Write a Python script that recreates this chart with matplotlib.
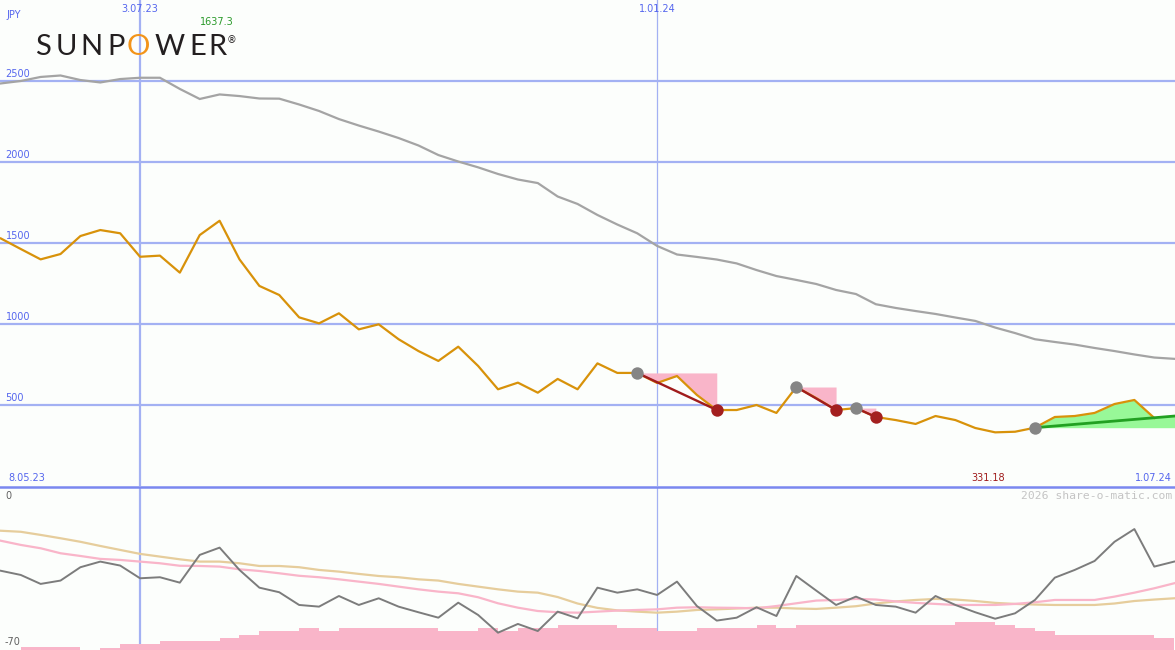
import numpy as np
import pandas as pd
import matplotlib
matplotlib.use("Agg")
import matplotlib.pyplot as plt
import matplotlib.dates as mdates
from matplotlib.lines import Line2D

# ---------------- data ----------------
weeks = pd.date_range("2023-05-15", periods=60, freq="7D")

price = [1528, 1463, 1399, 1432, 1543, 1580, 1560, 1415, 1422, 1317,
         1549, 1637.3, 1399, 1235, 1179, 1041, 1004, 1066, 967, 998,
         906, 833, 772, 860, 741, 597, 638, 576, 661, 597,
         757, 698, 698, 636, 679, 562, 469, 469, 500, 451,
         611, 543, 469, 481, 426, 407, 383, 432, 407, 358,
         331.18, 335, 360, 426, 432, 451, 506, 531, 420]

sma = [2485, 2500, 2525, 2534, 2506, 2491, 2512, 2520, 2520, 2451,
       2389, 2417, 2407, 2392, 2391, 2355, 2315, 2265, 2225, 2188,
       2148, 2102, 2043, 2003, 1967, 1926, 1892, 1870, 1787, 1741,
       1673, 1614, 1560, 1482, 1429, 1414, 1398, 1374, 1333, 1296,
       1272, 1247, 1210, 1185, 1122, 1099, 1080, 1062, 1040, 1019,
       978, 944, 906, 889, 873, 852, 833, 812, 793, 785]

osc = [-32.5, -34.5, -38.8, -37.2, -30.8, -28.1, -30.0, -36.1, -35.6, -38.2,
       -24.9, -21.4, -32.1, -40.6, -42.8, -48.9, -49.7, -44.6, -48.9, -45.7,
       -49.7, -52.4, -55.0, -47.8, -53.7, -62.2, -58.0, -61.4, -52.1, -55.3,
       -40.6, -43.0, -41.4, -44.1, -37.7, -49.4, -56.4, -55.0, -50.0, -54.2,
       -35.0, -42.0, -48.9, -44.9, -48.9, -49.7, -52.6, -44.6, -48.9, -52.4,
       -55.5, -52.9, -46.5, -35.8, -32.1, -27.8, -18.6, -12.5, -30.5, -28.1]

osc_slow = [-13.3, -13.8, -15.3, -16.9, -18.6, -20.6, -22.5, -24.4, -25.7, -27.0,
            -28.1, -28.1, -28.9, -30.2, -30.2, -30.8, -32.1, -32.9, -34.0, -35.0,
            -35.6, -36.6, -37.2, -38.8, -40.1, -41.4, -42.5, -43.0, -45.1, -48.2,
            -50.3, -51.5, -52.1, -52.6, -52.1, -51.3, -51.0, -50.6, -50.2, -50.2,
            -50.6, -50.8, -50.2, -49.5, -48.2, -47.2, -46.5, -46.0, -46.3, -47.0,
            -47.9, -48.4, -48.7, -48.9, -48.9, -48.9, -48.2, -47.0, -46.3, -45.7]

osc_mid = [-18.1, -20.1, -21.7, -24.1, -25.4, -26.8, -27.3, -28.1, -28.9, -30.1,
           -30.2, -30.5, -31.8, -32.6, -33.7, -34.9, -35.6, -36.6, -37.7, -38.8,
           -40.1, -41.4, -42.5, -43.3, -45.2, -48.1, -50.2, -51.8, -52.4, -52.6,
           -52.1, -51.6, -51.3, -51.0, -50.2, -50.0, -50.2, -50.3, -50.5, -49.4,
           -48.1, -46.8, -46.5, -46.0, -46.3, -47.2, -47.9, -48.4, -48.9, -48.9,
           -48.9, -48.4, -47.6, -46.5, -46.5, -46.5, -44.9, -43.0, -40.9, -38.5]

volume = [0, 2.7, 2.7, 2.7, 0, 2.3, 6, 6, 9, 9,
          9, 12, 15.3, 19, 19, 22.3, 19, 22.3, 22.3, 22.3,
          22.3, 22.3, 19, 19, 22.3, 19, 22.3, 22.3, 25, 25,
          25, 22.3, 22.3, 19, 19, 22.3, 22.3, 22.3, 25, 22.3,
          25, 25, 25, 25, 25, 25, 25, 25, 28.3, 28.3,
          25, 22.3, 19, 15, 15, 15, 15, 15, 11.7]

sell_entries = [32, 40, 43]
sell_exits = [36, 42, 44]
buy_entry = 52
trend_end = 432

price_grid = [500, 1000, 1500, 2000, 2500]
price_grid_labels = ["500", "1000", "1500", "2000", "2500"]
marker_dates = ["2023-07-03", "2024-01-01"]
marker_labels = ["3.07.23", "1.01.24"]

# ---------------- figure ----------------
W, H = 1175, 650
BG = "#fcfefc"
GRID = "#a3b1f3"
AXIS = "#7a88f0"
BLUE_TXT = "#5566ee"
ORANGE = "#d8920a"

fig = plt.figure(figsize=(W / 100, H / 100), dpi=100, facecolor=BG)

def fx(x):
    return x / W

def fy(y):
    return 1 - y / H

x = mdates.date2num(weeks)
d0 = mdates.date2num(pd.Timestamp("2024-01-01"))
xlim = (d0 - 231.3, d0 + 182.3)

# main panel
ax = fig.add_axes([0, 164 / H, 1, 486 / H])
ax.set_xlim(*xlim)
ax.set_ylim(0, 3000)
ax.axis("off")

for v, lab in zip(price_grid, price_grid_labels):
    ax.axhline(v, color=GRID, lw=1.6, zorder=1)
    ax.annotate(lab, xy=(0, v), xycoords=ax.get_yaxis_transform(),
                xytext=(4, 1.5), textcoords="offset points", ha="left", va="bottom",
                fontsize=7, color=BLUE_TXT, family="DejaVu Sans")

md = [mdates.date2num(pd.Timestamp(d)) for d in marker_dates]
ax.axvline(md[0], color=GRID, lw=1.6, zorder=1)
ax.axvline(md[1], color=GRID, lw=0.9, zorder=1)

ax.plot(x, sma, color="#a4a4a4", lw=1.6, zorder=3, solid_joinstyle="miter")

# sell signals: pink shading + red lines
for a, b in zip(sell_entries, sell_exits):
    ax.fill_between(x[a:b + 1], price[a], price[a:b + 1], color="#f9b5c9", lw=0, zorder=2)
    ax.plot([x[a], x[b]], [price[a], price[b]], color="#a01c1c", lw=1.7, zorder=5)

# buy signal: green shading + trend line
gx = list(x[buy_entry:len(price)]) + [xlim[1]]
gtop = list(price[buy_entry:]) + [trend_end]
ax.fill_between(gx, price[buy_entry], gtop, color="#98f898", lw=0, zorder=2)
ax.plot([x[buy_entry], xlim[1]], [price[buy_entry], trend_end], color="#22a022", lw=2, zorder=5)

ax.plot(x[:len(price)], price, color=ORANGE, lw=1.6, zorder=4)

ax.scatter([x[i] for i in sell_entries + [buy_entry]],
           [price[i] for i in sell_entries + [buy_entry]],
           s=80, color="#858585", zorder=6, lw=0)
ax.scatter([x[i] for i in sell_exits], [price[i] for i in sell_exits],
           s=80, color="#a31f1f", zorder=6, lw=0)

# bottom axis line of main panel
fig.add_artist(Line2D([0, 1], [fy(487), fy(487)], color=AXIS, lw=1.8, transform=fig.transFigure))

# lower panel: bars
axb = fig.add_axes([0, 0, 1, 162 / H])
axb.set_xlim(*xlim)
axb.set_ylim(0, 162)
axb.axis("off")
axb.axvline(md[0], color=GRID, lw=1.6, zorder=1)
axb.axvline(md[1], color=GRID, lw=0.9, zorder=1)
axb.bar(x[:len(volume)], volume, width=7, align="edge", color="#f9b5c9", lw=0, zorder=2)

# lower panel: lines
ax2 = fig.add_axes([0, 0, 1, 162 / H])
ax2.set_xlim(*xlim)
ax2.set_ylim(-70.5, 7.2)
ax2.axis("off")
ax2.patch.set_visible(False)
ax2.plot(x, osc_slow, color="#e6cd9c", lw=1.6, zorder=3)
ax2.plot(x, osc_mid, color="#f9b5c9", lw=1.6, zorder=3)
ax2.plot(x, osc, color="#7c7c7c", lw=1.4, zorder=4)

# ---------------- texts ----------------
fig.text(fx(6), fy(15), "JPY", fontsize=7, color=BLUE_TXT, ha="left", va="center")
for d, lab in zip([140, 657], marker_labels):
    fig.text(fx(d), fy(9), lab, fontsize=7, color=BLUE_TXT, ha="center", va="center")
fig.text(fx(217), fy(22), "1637.3", fontsize=7, color="#2a9a2a", ha="center", va="center")
fig.text(fx(8), fy(478), "8.05.23", fontsize=7, color=BLUE_TXT, ha="left", va="center")
fig.text(fx(988), fy(478), "331.18", fontsize=7, color="#a01c1c", ha="center", va="center")
fig.text(fx(1172), fy(478), "1.07.24", fontsize=7, color=BLUE_TXT, ha="right", va="center")
fig.text(fx(1172), fy(496), "2026 share-o-matic.com", fontsize=8.2, color="#c4c4c4",
         ha="right", va="center", family="DejaVu Sans Mono")
fig.text(fx(5), fy(496), "0", fontsize=7, color="#606060", ha="left", va="center")
fig.text(fx(5), fy(642), "-70", fontsize=7, color="#606060", ha="left", va="center")

# logo
logo = [("S", 42.5), ("U", 66.5), ("N", 91.5), ("P", 116.5), ("O", 138),
        ("W", 169.5), ("E", 197.5), ("R", 217.5)]
for ch, cx in logo:
    fig.text(fx(cx), fy(47), ch, fontsize=21, color="#f39419" if ch == "O" else "#231f20",
             ha="center", va="center", family="Lato", fontweight="normal")
fig.text(fx(231), fy(40), "®", fontsize=7, color="#231f20", ha="center", va="center")

fig.savefig("out.png", dpi=100, facecolor=BG)
